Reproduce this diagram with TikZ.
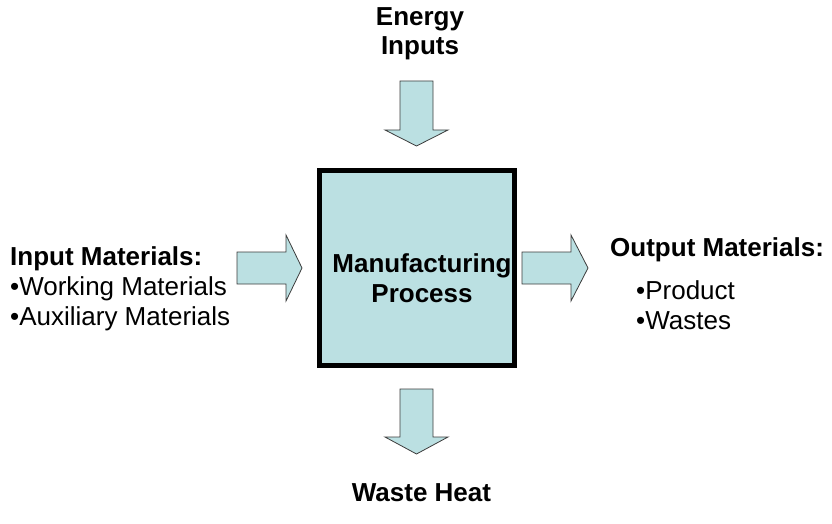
\documentclass[tikz,border=0pt]{standalone}
\usepackage{fontspec}
\setmainfont{Liberation Sans}
\definecolor{teal1}{RGB}{187,224,226}
\definecolor{edge1}{RGB}{60,60,60}
\tikzset{
  blockarrow/.style={fill=teal1,draw=edge1,line width=0.8pt,line join=miter},
  heading/.style={font=\fontsize{26}{30}\selectfont\bfseries,inner sep=0pt},
  plain/.style={font=\fontsize{26}{30}\selectfont,inner sep=0pt},
}
\begin{document}
\begin{tikzpicture}[x=1pt,y=-1pt]
\useasboundingbox (0,0) rectangle (832,524);
% main box
\node[draw=black,line width=5pt,fill=teal1,minimum width=195pt,minimum height=195pt,inner sep=0pt] (proc) at (416.5,267.5) {};
\node[heading,anchor=base] (manu) at (422,272) {Manufacturing};
\node[heading,anchor=base] (procl) at (422,302) {Process};
% top arrow
\draw[blockarrow] (400,81) -- (433,81) -- (433,130) -- (448,130) -- (416.5,146) -- (385,130) -- (400,130) -- cycle;
% bottom arrow
\draw[blockarrow] (400,389) -- (433,389) -- (433,437) -- (448,437) -- (416.5,454) -- (385,437) -- (400,437) -- cycle;
% left arrow
\draw[blockarrow] (237,252) -- (286,252) -- (286,235) -- (302,268) -- (286,301) -- (286,284) -- (237,284) -- cycle;
% right arrow
\draw[blockarrow] (522,252) -- (571,252) -- (571,235) -- (588,268) -- (571,301) -- (571,284) -- (522,284) -- cycle;
% texts
\node[heading,anchor=base] (en1) at (420,26) {Energy};
\node[heading,anchor=base] (en2) at (420,55) {Inputs};
\node[heading,anchor=base] (wh) at (421.5,501) {Waste Heat};
\node[heading,anchor=base west] (inm) at (10,265) {Input Materials:};
\node[plain,anchor=base west] (wm) at (10,295) {•Working Materials};
\node[plain,anchor=base west] (am) at (10,325) {•Auxiliary Materials};
\node[heading,anchor=base west] (outm) at (610,256) {Output Materials:};
\node[plain,anchor=base west] (pr) at (636,299) {•Product};
\node[plain,anchor=base west] (ws) at (636,329) {•Wastes};
\end{tikzpicture}
\end{document}
